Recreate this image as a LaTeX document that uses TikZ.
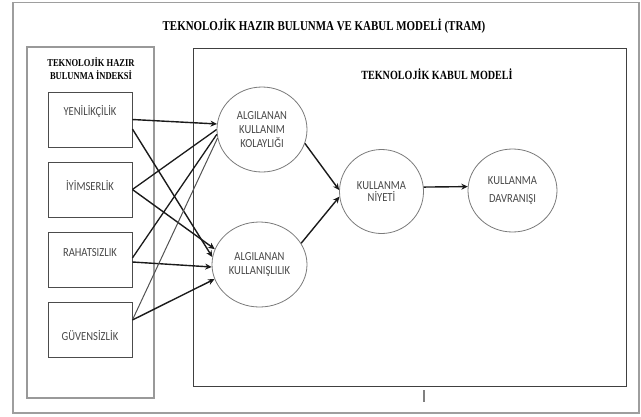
\documentclass[tikz,border=0pt]{standalone}
\usepackage{fontspec}
\setmainfont{Carlito}
\newfontfamily\headfont{Liberation Serif}[FakeStretch=0.81]
\newfontfamily\boxfont{Carlito}[FakeStretch=0.86]
\usetikzlibrary{arrows.meta, positioning, shapes.geometric}
\definecolor{framegray}{HTML}{9E9E9E}
\definecolor{edgegray}{HTML}{7A7A7A}
\definecolor{textgray}{HTML}{474747}
\definecolor{arrowblack}{HTML}{1A1A1A}

\begin{document}
\begin{tikzpicture}[x=1pt, y=-1pt, >=Stealth,
    factor/.style={draw=black!70, line width=0.8pt, minimum width=84pt, minimum height=55pt, inner sep=0pt},
    factorlbl/.style={font=\boxfont\fontsize{12.3}{14}\selectfont, text=textgray, inner sep=0pt},
    construct/.style={ellipse, draw=edgegray, line width=0.8pt, align=center, inner sep=0pt, font=\boxfont\fontsize{12.3}{14}\selectfont, text=textgray},
    link/.style={-{Stealth[length=6.5pt, width=6pt]}, line width=1.4pt, draw=arrowblack},
    plain/.style={line width=1.3pt, draw=arrowblack},
    faint/.style={line width=1pt, draw=black!68}]
    \useasboundingbox (0,0) rectangle (641,416);

    % Frames
    \draw[framegray, line width=1.3pt] (13,2.5) rectangle (639,413);
    \draw[black!40, line width=1.2pt] (27,47) rectangle (154,398);
    \draw[black!75, line width=1pt] (193,48) rectangle (626,386);
    \draw[black!50, line width=1.5pt] (424,390) -- (424,402);

    % Titles
    \node[font=\headfont\bfseries\fontsize{13.5}{16}\selectfont] (title) at (324,26) {TEKNOLOJİK HAZIR BULUNMA VE KABUL MODELİ (TRAM)};
    \node[font=\headfont\bfseries\fontsize{10.5}{13}\selectfont, align=center] (thbi) at (91,68.5) {TEKNOLOJİK HAZIR\\BULUNMA İNDEKSİ};
    \node[font=\headfont\bfseries\fontsize{12.5}{15}\selectfont] (tkm) at (437,74) {TEKNOLOJİK KABUL MODELİ};

    % Readiness factors
    \node[factor] (yen) at (90,119.5) {};
    \node[factor] (iyi) at (90,189.5) {};
    \node[factor] (rah) at (90,259.5) {};
    \node[factor] (guv) at (90,329.5) {};
    \node[factorlbl] (yenlbl) at (90,112) {YENİLİKÇİLİK};
    \node[factorlbl] (iyilbl) at (90,186) {İYİMSERLİK};
    \node[factorlbl] (rahlbl) at (90,253) {RAHATSIZLIK};
    \node[factorlbl] (guvlbl) at (90,336) {GÜVENSİZLİK};

    % TAM constructs
    \node[construct, minimum width=90pt, minimum height=85pt] (akk) at (262,129.5) {ALGILANAN\\KULLANIM\\KOLAYLIĞI};
    \node[construct, minimum width=95pt, minimum height=85pt] (ak) at (259.5,264.5) {ALGILANAN\\KULLANIŞLILIK};
    \node[construct, minimum width=84pt, minimum height=84pt] (kn) at (381.5,191.5) {KULLANMA\\[-2pt]NİYETİ};
    \node[construct, minimum width=89pt, minimum height=83pt] (kd) at (512.5,190.5) {KULLANMA\\[4pt]DAVRANIŞI};

    % Connectors
    \draw[link] (yen.east) -- (akk.173);
    \draw[link] ([yshift=-9.5pt]yen.east) -- (ak.171);
    \draw[plain] (iyi.east) -- (akk.180);
    \draw[link] (iyi.east) -- (ak.161);
    \draw[plain] ([yshift=1.5pt]rah.east) -- (akk.186);
    \draw[link] ([yshift=-2.5pt]rah.east) -- (ak.183);
    \draw[faint] ([yshift=9.5pt]guv.east) -- (akk.191);
    \draw[link] ([yshift=9.5pt]guv.east) -- (ak.198);
    \draw[link] (akk.342) -- (kn.178);
    \draw[link] (ak.27) -- (kn.187);
    \draw[link] (kn.6) -- (kd.175);
\end{tikzpicture}
\end{document}
